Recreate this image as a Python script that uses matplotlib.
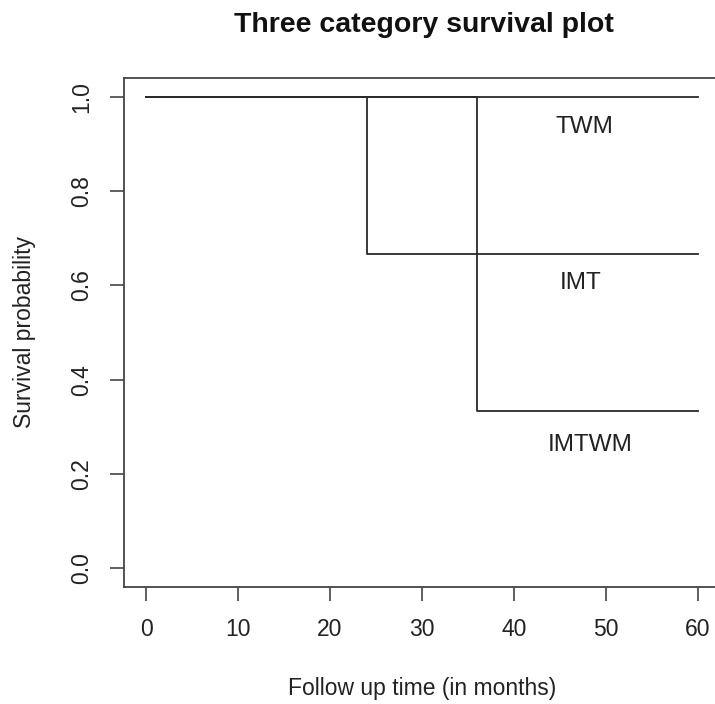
import numpy as np
import matplotlib.pyplot as plt

plt.rcParams['font.family'] = ['Liberation Sans', 'DejaVu Sans']

# survival curves (Kaplan-Meier style steps)
groups = ["TWM", "IMT", "IMTWM"]
event_times = [[0, 60], [0, 24, 60], [0, 36, 60]]
survival = [[1.0, 1.0], [1.0, 2/3, 2/3], [1.0, 1/3, 1/3]]
label_pos = [(47.7, 0.935), (47.2, 0.605), (48.3, 0.262)]

fig = plt.figure(figsize=(7.15, 7.04), dpi=100)
ax = fig.add_axes([124/715, 117/704, 596/715, 509/704])

for t, s in zip(event_times, survival):
    ax.step(t, s, where="post", color="#2a2a2a", lw=1.3)

for g, (x, y) in zip(groups, label_pos):
    ax.text(x, y, g, ha="center", va="center", fontsize=17.5, color="#222222")

ax.set_xlim(-2.4, 62.4)
ax.set_ylim(-0.04, 1.04)
ax.set_xticks(np.arange(0, 61, 10))
ax.set_yticks(np.arange(0, 1.01, 0.2))
ax.set_yticklabels(["0.0", "0.2", "0.4", "0.6", "0.8", "1.0"], rotation=90, va="center")
ax.tick_params(length=10, width=1.2, color="#444444", labelsize=16.5, labelcolor="#222222", pad=12)
for sp in ax.spines.values():
    sp.set_color("#444444")
    sp.set_linewidth(1.3)

ax.set_xlabel("Follow up time (in months)", fontsize=16.5, color="#222222", va="baseline")
ax.set_ylabel("Survival probability", fontsize=16.5, color="#222222", va="center")
ax.xaxis.set_label_coords(0.5, -108/509)
ax.yaxis.set_label_coords(-99/596, 0.5)
fig.text(424/715, 1 - 32/704, "Three category survival plot", ha="center", va="baseline",
         fontsize=20.5, fontweight="bold", color="#111111")

fig.savefig("out.png", dpi=100)
